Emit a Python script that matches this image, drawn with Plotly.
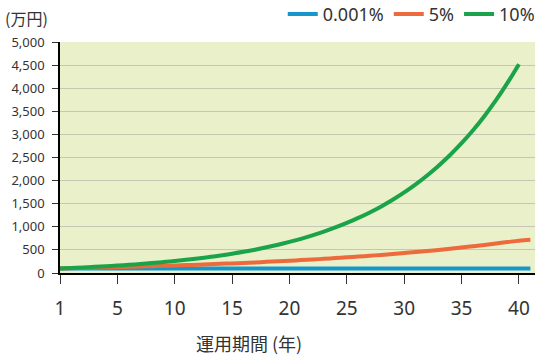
import plotly.graph_objects as go

# Years elapsed (label "1" sits at position 0)
years = [0, 1, 2, 3, 4, 5, 6, 7, 8, 9, 10, 11, 12, 13, 14, 15, 16, 17, 18, 19, 20,
         21, 22, 23, 24, 25, 26, 27, 28, 29, 30, 31, 32, 33, 34, 35, 36, 37, 38, 39, 40, 41]
years_10 = [0, 1, 2, 3, 4, 5, 6, 7, 8, 9, 10, 11, 12, 13, 14, 15, 16, 17, 18, 19, 20,
            21, 22, 23, 24, 25, 26, 27, 28, 29, 30, 31, 32, 33, 34, 35, 36, 37, 38, 39, 40]

vals_0001 = [100] * 42
vals_5 = [100, 105, 110, 116, 122, 128, 134, 141, 148, 155, 163, 171, 180, 189, 198, 208,
          218, 229, 241, 253, 265, 279, 293, 307, 323, 339, 356, 373, 392, 412, 432, 454,
          476, 500, 525, 552, 579, 608, 639, 670, 700, 720]
vals_10 = [100, 110, 121, 133, 146, 161, 177, 195, 214, 236, 259, 285, 314, 345, 380, 418,
           459, 505, 556, 612, 673, 740, 814, 895, 985, 1083, 1192, 1311, 1442, 1586, 1745,
           1919, 2111, 2323, 2555, 2810, 3091, 3400, 3740, 4114, 4520]

x_tickvals = [0, 5, 10, 15, 20, 25, 30, 35, 40]
x_ticktext = ["1", "5", "10", "15", "20", "25", "30", "35", "40"]
y_tickvals = [0, 500, 1000, 1500, 2000, 2500, 3000, 3500, 4000, 4500, 5000]

FONT = "Noto Sans, Noto Sans CJK JP, sans-serif"

fig = go.Figure()
fig.add_trace(go.Scatter(x=years, y=vals_0001, mode="lines", name="0.001%",
                         line=dict(color="#1597cc", width=4)))
fig.add_trace(go.Scatter(x=years, y=vals_5, mode="lines", name="5%",
                         line=dict(color="#ec6a3c", width=4, shape="spline")))
fig.add_trace(go.Scatter(x=years_10, y=vals_10, mode="lines", name="10%",
                         line=dict(color="#1ba34a", width=4, shape="spline")))

fig.update_layout(
    width=540, height=359,
    margin=dict(l=60, r=5, t=42, b=86, autoexpand=False),
    paper_bgcolor="white",
    plot_bgcolor="#eaf0c9",
    font=dict(family=FONT, color="#333333"),
    showlegend=True,
    legend=dict(orientation="h", xref="paper", yref="paper",
                x=1.01, xanchor="right", y=1.2, yanchor="top",
                font=dict(size=18, color="#333333"), itemwidth=30,
                bgcolor="rgba(0,0,0,0)", traceorder="normal"),
    xaxis=dict(range=[0, 41.4], tickvals=x_tickvals, ticktext=x_ticktext,
               showgrid=False, zeroline=False, showline=True, linecolor="black",
               linewidth=1.5, ticks="outside", ticklen=9, tickcolor="#333333",
               ticklabelstandoff=8,
               tickfont=dict(size=19, color="#333333")),
    yaxis=dict(range=[0, 5000], tickvals=y_tickvals, tickformat=",",
               showgrid=True, gridcolor="#c4c7b4", gridwidth=1, zeroline=False,
               showline=True, linecolor="black", linewidth=1.5,
               ticks="outside", ticklen=6, tickcolor="#333333",
               ticklabelstandoff=5,
               tickfont=dict(size=13, color="#333333")),
    annotations=[
        dict(text="(万円)", xref="paper", yref="paper", x=-0.12, y=1.105,
             xanchor="left", yanchor="middle", showarrow=False,
             font=dict(size=16, color="#333333", family="Noto Sans CJK JP")),
        dict(text="運用期間 (年)", xref="paper", yref="paper", x=0.398, y=-0.303,
             xanchor="center", yanchor="middle", showarrow=False,
             font=dict(size=18, color="#333333", family="Noto Sans CJK JP")),
    ],
)

fig.write_html("out.html", config={"displayModeBar": False},
               post_script="document.body.style.margin='0';")
